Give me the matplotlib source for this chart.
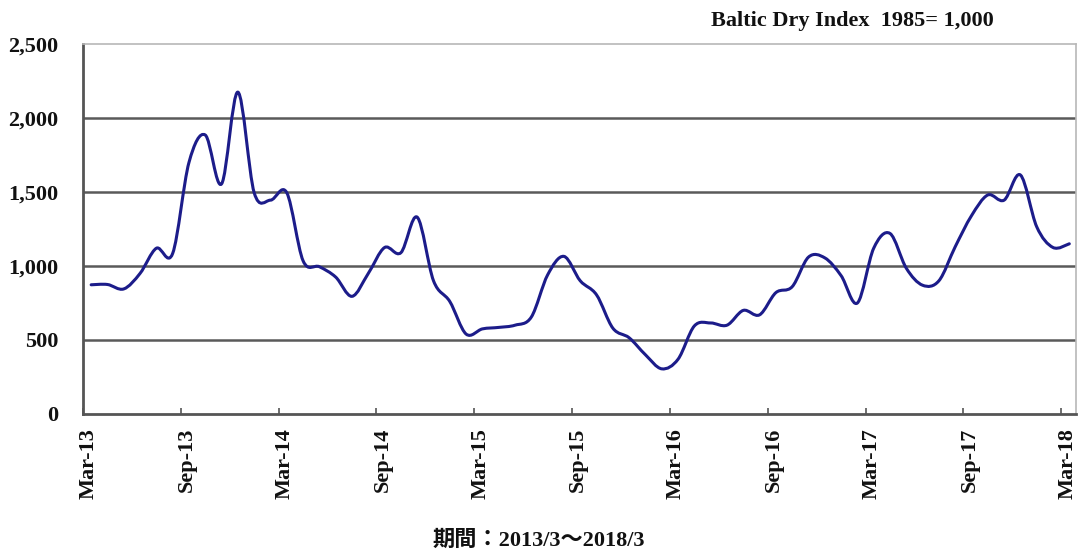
import matplotlib
matplotlib.use('Agg')
import matplotlib.pyplot as plt
from matplotlib.path import Path
from matplotlib.patches import PathPatch
from matplotlib.transforms import ScaledTranslation

# monthly Baltic Dry Index, Mar-2013 .. Mar-2018
bdi = [873, 875, 845, 950, 1120, 1085, 1700, 1885, 1555, 2175,
       1495, 1445, 1495, 1035, 995, 925, 795, 950, 1125, 1090,
       1330, 900, 760, 540, 575, 585, 600, 655, 940, 1065,
       900, 805, 580, 515, 400, 305, 370, 595, 615, 600,
       700, 670, 820, 860, 1060, 1055, 935, 750, 1120, 1220,
       985, 870, 900, 1130, 1340, 1480, 1445, 1615, 1265, 1125,
       1150]
tick_labels = ['Mar-13', 'Sep-13', 'Mar-14', 'Sep-14', 'Mar-15', 'Sep-15',
               'Mar-16', 'Sep-16', 'Mar-17', 'Sep-17', 'Mar-18']
title = 'Baltic Dry Index  1985= 1,000'
period = '期間：2013/3～2018/3'

serif = ['Liberation Serif', 'Noto Sans CJK JP']
line_col = '#1c1c8a'

fig = plt.figure(figsize=(10.78, 5.53), dpi=100)
ax = fig.add_axes([0.077, 0.2514, 0.921, 0.669])

# smooth line (Excel style) as bezier segments through the monthly points
xs = [i + 0.5 for i in range(len(bdi))]
pts = list(zip(xs, bdi))
verts = [pts[0]]
codes = [Path.MOVETO]
n = len(pts)
for i in range(n - 1):
    p0 = pts[max(i - 1, 0)]
    p1 = pts[i]
    p2 = pts[i + 1]
    p3 = pts[min(i + 2, n - 1)]
    c1 = (p1[0] + (p2[0] - p0[0]) / 6, p1[1] + (p2[1] - p0[1]) / 6)
    c2 = (p2[0] - (p3[0] - p1[0]) / 6, p2[1] - (p3[1] - p1[1]) / 6)
    verts += [c1, c2, p2]
    codes += [Path.CURVE4] * 3
ax.add_patch(PathPatch(Path(verts, codes), fill=False, edgecolor=line_col,
                       lw=2.2, capstyle='round', joinstyle='round', zorder=3))

ax.set_xlim(0, 60.9)
ax.set_ylim(0, 2500)
ax.set_yticks(range(0, 2501, 500))
ax.set_yticklabels([f'{v:,}' for v in range(0, 2501, 500)])
ax.set_xticks(range(0, 61, 6))
ax.set_xticklabels(tick_labels, rotation=90, va='top', ha='center')

for v in range(500, 2001, 500):
    ax.axhline(v, color='#5a5a5a', lw=1.8, zorder=1)

for s in ['left', 'bottom']:
    ax.spines[s].set_color('#555555')
    ax.spines[s].set_linewidth(2)
for s in ['top', 'right']:
    ax.spines[s].set_color('#b8b8b8')
    ax.spines[s].set_linewidth(1.2)

ax.tick_params(axis='y', length=0, pad=18)
ax.tick_params(axis='x', direction='in', length=4, width=1.2, color='#555555', pad=10)
for lab in ax.get_yticklabels() + ax.get_xticklabels():
    lab.set_family(serif)
    lab.set_fontweight('bold')
    lab.set_fontsize(16)
    lab.set_color('#111111')
off = ScaledTranslation(6 / 100, 0, fig.dpi_scale_trans)
for lab in ax.get_xticklabels():
    lab.set_transform(lab.get_transform() + off)

fig.text(0.66, 0.962, title, family=serif, fontweight='bold', fontsize=16,
         ha='left', va='center', color='#111111')
fig.text(0.5, 0.022, period, family=serif, fontweight='bold', fontsize=16,
         ha='center', va='center', color='#111111')

fig.savefig('out.png', dpi=100)
